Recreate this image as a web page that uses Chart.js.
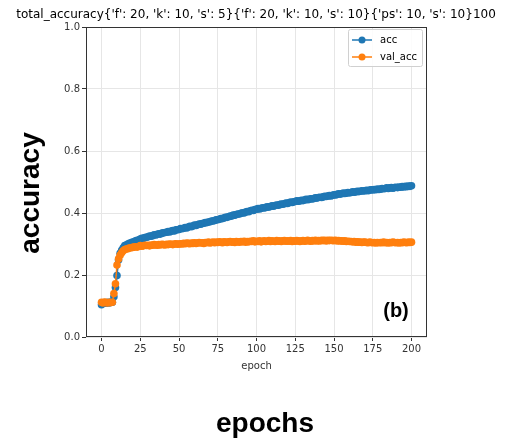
<!DOCTYPE html>
<html>
<head>
<meta charset="utf-8">
<script src="https://cdn.jsdelivr.net/npm/chart.js@4.4.1/dist/chart.umd.min.js"></script>
<style>
html,body{margin:0;padding:0;background:#fff;}
#c{display:block;}
</style>
</head>
<body>
<canvas id="c" width="510" height="441" style="width:510px;height:441px"></canvas>
<script>
const chartTitle = "total_accuracy{'f': 20, 'k': 10, 's': 5}{'f': 20, 'k': 10, 's': 10}{'ps': 10, 's': 10}100";
const seriesNames = ["acc", "val_acc"];
const xTicks = [0, 25, 50, 75, 100, 125, 150, 175, 200];
const yTicks = [0.0, 0.2, 0.4, 0.6, 0.8, 1.0];

const acc = [
0.104,0.108,0.111,0.109,0.112,0.110,0.113,0.112,0.130,0.160,
0.198,0.248,0.270,0.280,0.288,0.295,0.297,0.300,0.302,0.304,
0.306,0.307,0.310,0.312,0.313,0.316,0.318,0.318,0.321,0.322,
0.323,0.326,0.325,0.327,0.330,0.329,0.331,0.333,0.332,0.335,
0.336,0.337,0.338,0.340,0.339,0.342,0.343,0.342,0.346,0.346,
0.347,0.350,0.349,0.351,0.353,0.352,0.355,0.357,0.356,0.358,
0.361,0.360,0.362,0.364,0.364,0.366,0.367,0.369,0.369,0.371,
0.372,0.374,0.374,0.376,0.378,0.378,0.380,0.382,0.382,0.384,
0.386,0.386,0.388,0.390,0.390,0.393,0.393,0.395,0.397,0.397,
0.399,0.401,0.400,0.403,0.405,0.404,0.407,0.409,0.408,0.411,
0.412,0.414,0.413,0.415,0.417,0.416,0.418,0.420,0.419,0.421,
0.423,0.422,0.424,0.426,0.425,0.427,0.429,0.428,0.430,0.432,
0.431,0.433,0.435,0.434,0.436,0.437,0.439,0.438,0.439,0.441,
0.440,0.442,0.444,0.443,0.444,0.446,0.445,0.447,0.449,0.448,
0.450,0.451,0.450,0.452,0.454,0.453,0.455,0.456,0.455,0.457,
0.459,0.458,0.460,0.462,0.461,0.462,0.464,0.463,0.464,0.466,
0.465,0.466,0.468,0.467,0.468,0.470,0.469,0.470,0.472,0.471,
0.472,0.473,0.472,0.474,0.475,0.474,0.476,0.475,0.477,0.476,
0.477,0.479,0.478,0.479,0.481,0.479,0.481,0.482,0.480,0.482,
0.483,0.482,0.484,0.483,0.485,0.484,0.486,0.485,0.487,0.486,
0.488
];

const valAcc = [
0.112,0.110,0.113,0.111,0.110,0.112,0.111,0.112,0.140,0.172,
0.232,0.252,0.264,0.272,0.278,0.282,0.284,0.285,0.287,0.288,
0.289,0.290,0.291,0.290,0.292,0.295,0.293,0.294,0.296,0.295,
0.296,0.294,0.297,0.296,0.298,0.297,0.296,0.298,0.297,0.299,
0.298,0.297,0.299,0.298,0.300,0.299,0.298,0.300,0.301,0.299,
0.300,0.301,0.300,0.302,0.301,0.303,0.302,0.301,0.303,0.302,
0.304,0.302,0.303,0.305,0.303,0.304,0.302,0.305,0.304,0.306,
0.303,0.305,0.306,0.304,0.306,0.305,0.307,0.306,0.304,0.307,
0.306,0.305,0.307,0.308,0.306,0.307,0.305,0.308,0.307,0.306,
0.308,0.307,0.309,0.306,0.308,0.307,0.309,0.308,0.310,0.307,
0.309,0.308,0.310,0.307,0.309,0.310,0.308,0.309,0.311,0.308,
0.310,0.309,0.308,0.311,0.309,0.310,0.308,0.310,0.311,0.309,
0.310,0.309,0.311,0.308,0.310,0.309,0.311,0.310,0.308,0.310,
0.311,0.309,0.310,0.312,0.310,0.309,0.311,0.310,0.312,0.310,
0.311,0.310,0.312,0.311,0.312,0.310,0.312,0.311,0.312,0.311,
0.311,0.312,0.310,0.311,0.310,0.310,0.309,0.310,0.308,0.309,
0.308,0.308,0.307,0.308,0.306,0.307,0.306,0.306,0.305,0.306,
0.306,0.305,0.304,0.306,0.305,0.304,0.305,0.303,0.305,0.304,
0.305,0.304,0.306,0.304,0.305,0.303,0.305,0.304,0.306,0.305,
0.304,0.305,0.303,0.305,0.304,0.306,0.305,0.304,0.306,0.305,
0.306
];

const epochs = acc.map((_, i) => i);
const colors = ['#1f77b4', '#ff7f0e'];

const toPoints = arr => arr.map((v, i) => ({x: epochs[i], y: v}));

const extras = {
  id: 'extras',
  afterDraw(chart) {
    const ctx = chart.ctx;
    const a = chart.chartArea;
    ctx.save();
    // frame
    ctx.strokeStyle = '#333';
    ctx.lineWidth = 1;
    ctx.strokeRect(Math.round(a.left) + 0.5, Math.round(a.top) + 0.5, Math.round(a.right - a.left) - 1, Math.round(a.bottom - a.top) - 1);
    // title
    ctx.fillStyle = '#000';
    ctx.font = '12px "DejaVu Sans"';
    ctx.textAlign = 'center';
    ctx.textBaseline = 'middle';
    ctx.fillText(chartTitle, 256, 15);
    // legend
    const lx = 348, ly = 29, lw = 74, lh = 37;
    ctx.fillStyle = 'rgba(255,255,255,0.85)';
    ctx.strokeStyle = '#d0d0d0';
    ctx.beginPath();
    if (ctx.roundRect) ctx.roundRect(lx + 0.5, ly + 0.5, lw, lh, 2); else ctx.rect(lx + 0.5, ly + 0.5, lw, lh);
    ctx.fill(); ctx.stroke();
    chart.data.datasets.forEach((ds, i) => {
      const y = 40 + i * 17;
      ctx.strokeStyle = ds.borderColor;
      ctx.lineWidth = 1.5;
      ctx.beginPath(); ctx.moveTo(352, y); ctx.lineTo(372, y); ctx.stroke();
      ctx.fillStyle = ds.backgroundColor;
      ctx.beginPath(); ctx.arc(362, y, 3.5, 0, Math.PI * 2); ctx.fill();
      ctx.fillStyle = '#000';
      ctx.font = '10px "DejaVu Sans"';
      ctx.textAlign = 'left';
      ctx.fillText(ds.label, 380, y);
    });
    // big labels
    ctx.fillStyle = '#000';
    ctx.font = 'bold 28px "Liberation Sans"';
    ctx.textAlign = 'center';
    ctx.textBaseline = 'middle';
    ctx.fillText('epochs', 265, 424);
    ctx.save();
    ctx.translate(31, 193);
    ctx.rotate(-Math.PI / 2);
    ctx.fillText('accuracy', 0, 0);
    ctx.restore();
    ctx.font = 'bold 20px "Liberation Sans"';
    ctx.fillText('(b)', 396, 311);
    ctx.restore();
  }
};

new Chart(document.getElementById('c'), {
  type: 'line',
  data: {
    datasets: [
      {label: seriesNames[0], data: toPoints(acc), borderColor: colors[0], backgroundColor: colors[0],
       pointRadius: 3.8, pointBorderWidth: 0, borderWidth: 1.5, order: 1},
      {label: seriesNames[1], data: toPoints(valAcc), borderColor: colors[1], backgroundColor: colors[1],
       pointRadius: 3.8, pointBorderWidth: 0, borderWidth: 1.5, order: 0}
    ]
  },
  options: {
    responsive: false,
    animation: false,
    devicePixelRatio: 1,
    layout: {padding: {left: 0, right: 83, top: 27, bottom: 69}},
    plugins: {legend: {display: false}, tooltip: {enabled: false}, title: {display: false}},
    scales: {
      x: {
        type: 'linear', min: -10, max: 210,
        afterBuildTicks: s => { s.ticks = xTicks.map(v => ({value: v})); },
        afterFit: s => { s.height = 35; },
        ticks: {color: '#333', font: {family: 'DejaVu Sans', size: 10}, padding: 2, maxRotation: 0, autoSkip: false,
                callback: v => String(v)},
        grid: {color: '#e6e6e6', tickColor: '#333', tickLength: 4, lineWidth: 1},
        border: {display: false},
        title: {display: true, text: 'epoch', color: '#333', font: {family: 'DejaVu Sans', size: 10}, padding: {top: 0, bottom: 0}}
      },
      y: {
        type: 'linear', min: 0, max: 1,
        afterBuildTicks: s => { s.ticks = yTicks.map(v => ({value: v})); },
        afterFit: s => { s.width = 86; },
        ticks: {color: '#333', font: {family: 'DejaVu Sans', size: 10}, padding: 2, autoSkip: false,
                callback: v => v.toFixed(1)},
        grid: {color: '#e6e6e6', tickColor: '#333', tickLength: 4, lineWidth: 1},
        border: {display: false}
      }
    }
  },
  plugins: [extras]
});
</script>
</body>
</html>
